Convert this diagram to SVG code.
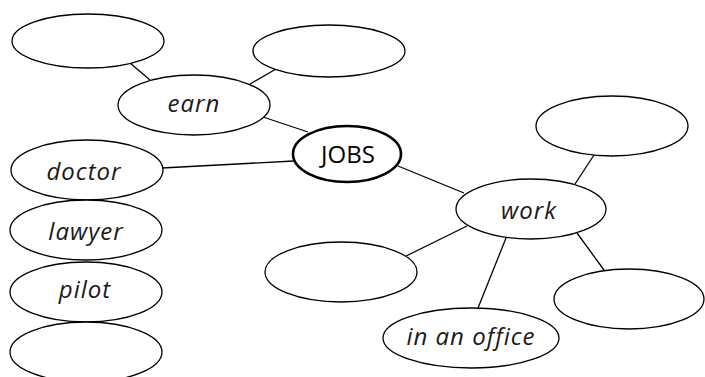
<svg xmlns="http://www.w3.org/2000/svg" width="705" height="377" viewBox="0 0 705 377">
<style>
.n{fill:#fff;stroke:#000;stroke-width:1.3}
.c{fill:#fff;stroke:#000;stroke-width:2.6}
.t{font-family:"Open Sans","Liberation Sans",sans-serif;font-size:24px;letter-spacing:1px;font-style:italic;text-anchor:middle;fill:#1a1a1a}
.h{font-family:"Open Sans","Liberation Sans",sans-serif;font-size:24px;text-anchor:middle;fill:#000}
#connectors line{stroke:#000;stroke-width:1.3}
</style>
<rect width="705" height="377" fill="#fff"/>
<g id="connectors">
<line x1="130" y1="63" x2="150" y2="80"/>
<line x1="250" y1="84" x2="276" y2="69"/>
<line x1="263" y1="117" x2="308" y2="132"/>
<line x1="162" y1="168" x2="294" y2="161"/>
<line x1="398" y1="166" x2="464" y2="193"/>
<line x1="575" y1="184" x2="594" y2="155"/>
<line x1="467" y1="226" x2="406" y2="256"/>
<line x1="506" y1="238" x2="478" y2="308"/>
<line x1="577" y1="233" x2="604" y2="270"/>
</g>
<g id="empty-top-left"><ellipse class="n" cx="88" cy="41" rx="76" ry="27"/></g>
<g id="empty-top-center"><ellipse class="n" cx="329" cy="51" rx="76" ry="26"/></g>
<g id="earn"><ellipse class="n" cx="194" cy="105" rx="76" ry="30"/><text class="t" x="194" y="112">earn</text></g>
<g id="jobs"><ellipse class="c" cx="347" cy="154" rx="54" ry="28"/><text class="h" x="348" y="163">JOBS</text></g>
<g id="doctor"><ellipse class="n" cx="87" cy="170" rx="76" ry="30"/><text class="t" x="84" y="180">doctor</text></g>
<g id="lawyer"><ellipse class="n" cx="86" cy="230" rx="76" ry="30"/><text class="t" x="86" y="240">lawyer</text></g>
<g id="pilot"><ellipse class="n" cx="86" cy="292" rx="76" ry="30"/><text class="t" x="85" y="298">pilot</text></g>
<g id="empty-bottom-left"><ellipse class="n" cx="86" cy="352" rx="76" ry="30"/></g>
<g id="empty-middle"><ellipse class="n" cx="341" cy="272" rx="76" ry="30"/></g>
<g id="work"><ellipse class="n" cx="531" cy="209" rx="75" ry="30"/><text class="t" x="529" y="219">work</text></g>
<g id="empty-top-right"><ellipse class="n" cx="612" cy="126" rx="76" ry="30"/></g>
<g id="empty-bottom-right"><ellipse class="n" cx="629" cy="299" rx="75" ry="30"/></g>
<g id="in-an-office"><ellipse class="n" cx="471" cy="338" rx="88" ry="30"/><text class="t" x="471" y="345">in an office</text></g>
</svg>
